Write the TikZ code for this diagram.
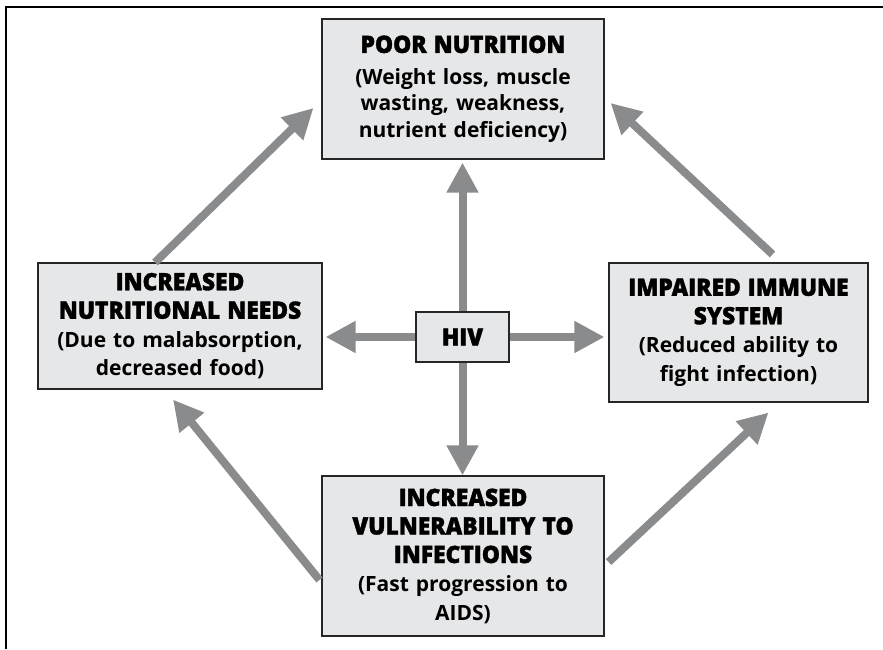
\documentclass[tikz,border=0pt]{standalone}
\usepackage{fontspec}
\usetikzlibrary{arrows.meta}
\setmainfont{Open Sans}
\newfontfamily\headfont{Open Sans Bold}[FakeStretch=0.95,FakeBold=1.4]
\newcommand{\hd}[1]{{\headfont\fontsize{24}{28.5}\selectfont #1}}
\definecolor{boxgray}{RGB}{230,231,232}
\definecolor{arrowgray}{RGB}{138,139,141}

\begin{document}
\begin{tikzpicture}[x=1pt, y=1pt,
    box/.style={draw=black!85, line width=1.1pt, fill=boxgray, inner sep=0pt, align=center,
        font=\fontsize{21}{28.5}\selectfont\bfseries},
    link/.style={draw=arrowgray, line width=8pt, -{Triangle[length=30pt,width=30pt]}}]

    \useasboundingbox (0,0) rectangle (883,649);

    % Marco exterior
    \draw[line width=1.6pt] (6,0) -- (6,642) -- (883,642);

    % Caja central
    \node[box, minimum width=93pt, minimum height=50pt] (hiv) at (462.5,312) {\hd{HIV}};

    % Cajas alrededor
    \node[box, minimum width=282pt, minimum height=140pt, text width=276pt] (poor) at (463,560)
        {\hd{POOR NUTRITION}\\[3pt] (Weight loss, muscle\\[-2pt] wasting, weakness,\\[-2pt] nutrient deficiency)};
    \node[box, minimum width=284pt, minimum height=126pt, text width=278pt] (left) at (180,323)
        {\hd{INCREASED}\\ \hd{NUTRITIONAL NEEDS}\\ (Due to malabsorption,\\ decreased food)};
    \node[box, minimum width=259pt, minimum height=139pt, text width=253pt] (right) at (738.5,316.5)
        {\hd{IMPAIRED IMMUNE}\\ \hd{SYSTEM}\\ (Reduced ability to\\ fight infection)};
    \node[box, minimum width=282pt, minimum height=160pt, text width=276pt] (bottom) at (463,93)
        {\hd{INCREASED}\\ \hd{VULNERABILITY TO}\\ \hd{INFECTIONS}\\ (Fast progression to\\ AIDS)};

    % Flechas desde HIV
    \draw[link] (hiv.north) -- ([yshift=-3pt]hiv.north |- poor.south);
    \draw[link] (hiv.south) -- (hiv.south |- bottom.north);
    \draw[link] (hiv.west) -- ([xshift=3pt]hiv.west -| left.east);
    \draw[link] (hiv.east) -- ([xshift=-4pt]hiv.east -| right.west);

    % Flechas del ciclo
    \draw[link] ([xshift=-25pt]left.north) -- ([xshift=-8pt,yshift=-19pt]poor.west);
    \draw[link] ([xshift=34pt,yshift=8pt]right.north) -- ([xshift=6pt,yshift=-14pt]poor.east);
    \draw[link] ([xshift=-2pt,yshift=-24pt]bottom.west) -- ([xshift=-7pt,yshift=-10pt]left.south);
    \draw[link] ([xshift=4pt,yshift=-6pt]bottom.east) -- ([xshift=30pt,yshift=-10pt]right.south);

\end{tikzpicture}
\end{document}
